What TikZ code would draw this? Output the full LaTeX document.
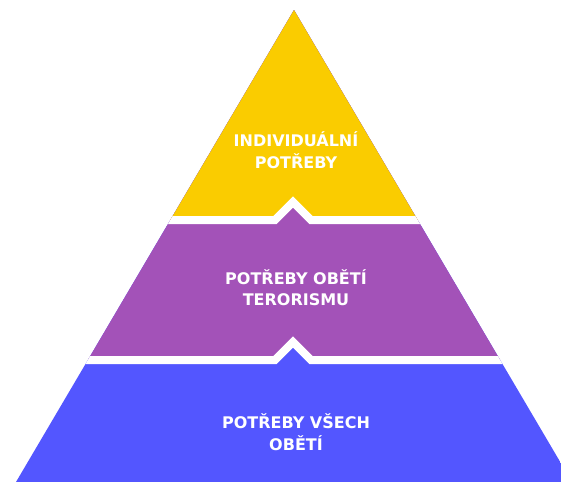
\documentclass[tikz,border=0pt]{standalone}
\usepackage{fontspec}
\setsansfont{DejaVu Sans}
\definecolor{pyellow}{RGB}{250,204,0}
\definecolor{ppurple}{RGB}{163,82,184}
\definecolor{pblue}{RGB}{83,86,255}
\begin{document}
\begin{tikzpicture}[x=1pt,y=-1pt,
  lbl/.style={text=white,font=\sffamily\bfseries\fontsize{16}{21.5}\selectfont,align=center,inner sep=0pt},
  gap/.style={white,line width=8pt,line join=miter}]
\useasboundingbox (0,0) rectangle (561,482);
\begin{scope}
  \clip (0,0) rectangle (561,482);
  \clip (294,10) -- (16,482) -- (572,482) -- cycle;
  \fill[pblue] (0,0) rectangle (561,482);
  \fill[ppurple] (0,0) -- (0,360) -- (275,360) -- (293,342) -- (311,360) -- (561,360) -- (561,0) -- cycle;
  \fill[pyellow] (0,0) -- (0,220) -- (275,220) -- (293,202) -- (311,220) -- (561,220) -- (561,0) -- cycle;
  \draw[gap] (0,220) -- (275,220) -- (293,202) -- (311,220) -- (561,220);
  \draw[gap] (0,360) -- (275,360) -- (293,342) -- (311,360) -- (561,360);
\end{scope}
\node[lbl] (top) at (296,150) {INDIVIDUÁLNÍ\\POTŘEBY};
\node[lbl] (mid) at (296,287.5) {POTŘEBY OBĚTÍ\\TERORISMU};
\node[lbl] (bot) at (296,432) {POTŘEBY VŠECH\\OBĚTÍ};
\end{tikzpicture}
\end{document}
